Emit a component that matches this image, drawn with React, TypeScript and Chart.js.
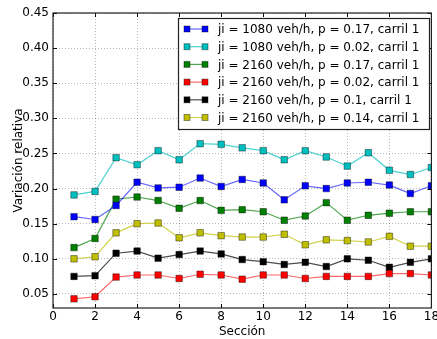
import React, { useEffect, useRef } from "react";
import { Chart, registerables } from "chart.js";

Chart.register(...registerables);

const secciones = [1, 2, 3, 4, 5, 6, 7, 8, 9, 10, 11, 12, 13, 14, 15, 16, 17, 18];

const serie1080p017 = [0.160, 0.156, 0.176, 0.209, 0.201, 0.202, 0.215, 0.203, 0.213, 0.208, 0.184, 0.204, 0.200, 0.208, 0.209, 0.205, 0.193, 0.204];
const serie1080p002 = [0.191, 0.196, 0.244, 0.234, 0.254, 0.241, 0.264, 0.263, 0.258, 0.254, 0.241, 0.254, 0.245, 0.232, 0.251, 0.226, 0.220, 0.230];
const serie2160p017 = [0.116, 0.129, 0.185, 0.188, 0.183, 0.172, 0.183, 0.169, 0.170, 0.167, 0.155, 0.161, 0.180, 0.155, 0.162, 0.165, 0.167, 0.167];
const serie2160p002 = [0.043, 0.046, 0.074, 0.077, 0.077, 0.072, 0.078, 0.077, 0.071, 0.077, 0.077, 0.072, 0.075, 0.075, 0.075, 0.079, 0.079, 0.077];
const serie2160p01 = [0.075, 0.076, 0.108, 0.111, 0.101, 0.106, 0.111, 0.107, 0.099, 0.096, 0.092, 0.095, 0.089, 0.100, 0.098, 0.088, 0.095, 0.100];
const serie2160p014 = [0.100, 0.103, 0.137, 0.150, 0.151, 0.130, 0.137, 0.133, 0.131, 0.131, 0.135, 0.120, 0.127, 0.126, 0.124, 0.132, 0.118, 0.118];

const etiquetas = [
  "ji = 1080 veh/h, p = 0.17, carril 1",
  "ji = 1080 veh/h, p = 0.02, carril 1",
  "ji = 2160 veh/h, p = 0.17, carril 1",
  "ji = 2160 veh/h, p = 0.02, carril 1",
  "ji = 2160 veh/h, p = 0.1, carril 1",
  "ji = 2160 veh/h, p = 0.14, carril 1",
];

const yTicks = [0.05, 0.1, 0.15, 0.2, 0.25, 0.3, 0.35, 0.4, 0.45];
const xTicks = [0, 2, 4, 6, 8, 10, 12, 14, 16, 18];

const colores = ["#0000ff", "#00bfbf", "#008000", "#ff0000", "#000000", "#bfbf00"];
const coloresLinea = [
  "rgba(0,0,255,0.6)",
  "rgba(0,191,191,0.7)",
  "rgba(0,128,0,0.7)",
  "rgba(255,0,0,0.6)",
  "rgba(0,0,0,0.7)",
  "rgba(191,191,0,0.7)",
];

const FONT = "'DejaVu Sans', sans-serif";

const framePlugin = {
  id: "frameAndLegend",
  afterDraw(chart: any) {
    const { ctx, chartArea } = chart;
    const { left, right, top, bottom } = chartArea;
    ctx.save();
    ctx.strokeStyle = "#000";
    ctx.lineWidth = 1;
    const xs = chart.scales.x;
    const ys = chart.scales.y;
    ctx.beginPath();
    xTicks.forEach((t) => {
      const px = Math.round(xs.getPixelForValue(t)) + 0.5;
      ctx.moveTo(px, bottom);
      ctx.lineTo(px, bottom - 4);
      ctx.moveTo(px, top);
      ctx.lineTo(px, top + 4);
    });
    yTicks.forEach((t) => {
      const py = Math.round(ys.getPixelForValue(t)) + 0.5;
      ctx.moveTo(left, py);
      ctx.lineTo(left + 4, py);
      ctx.moveTo(right, py);
      ctx.lineTo(right - 4, py);
    });
    ctx.stroke();
    ctx.strokeStyle = "#222";
    ctx.lineWidth = 1.2;
    ctx.strokeRect(left, top, right - left, bottom - top);

    const lx = 178.5, ly = 18.5, lw = 251, lh = 111;
    ctx.fillStyle = "#fff";
    ctx.fillRect(lx, ly, lw, lh);
    ctx.strokeStyle = "#222";
    ctx.lineWidth = 1.2;
    ctx.strokeRect(lx, ly, lw, lh);
    ctx.font = "12px " + FONT;
    ctx.textBaseline = "middle";
    ctx.textAlign = "left";
    chart.data.datasets.forEach((ds: any, i: number) => {
      const y = 29 + i * 17.7;
      ctx.strokeStyle = ds.borderColor;
      ctx.lineWidth = 1.2;
      ctx.beginPath();
      ctx.moveTo(187, y);
      ctx.lineTo(205, y);
      ctx.stroke();
      [187, 205].forEach((mx) => {
        ctx.fillStyle = ds.pointBackgroundColor;
        ctx.fillRect(mx - 3, y - 3, 6, 6);
        ctx.strokeStyle = "rgba(0,0,0,0.4)";
        ctx.lineWidth = 1;
        ctx.strokeRect(mx - 3, y - 3, 6, 6);
      });
      ctx.fillStyle = "#000";
      ctx.fillText(ds.label, 218, y + 1);
    });
    ctx.restore();
  },
};

export default function App() {
  const ref = useRef<HTMLCanvasElement>(null);
  useEffect(() => {
    if (!ref.current) return;
    const series = [serie1080p017, serie1080p002, serie2160p017, serie2160p002, serie2160p01, serie2160p014];
    const datasets = series.map((s, i) => ({
      label: etiquetas[i],
      data: s.map((v, j) => ({ x: secciones[j], y: v })),
      borderColor: coloresLinea[i],
      backgroundColor: colores[i],
      pointBackgroundColor: colores[i],
      pointBorderColor: "rgba(0,0,0,0.4)",
      pointBorderWidth: 1,
      pointStyle: "rect",
      pointRadius: 4.6,
      borderWidth: 1.2,
      tension: 0,
    }));
    const chart = new Chart(ref.current, {
      type: "line",
      data: { datasets },
      plugins: [framePlugin],
      options: {
        animation: false,
        responsive: false,
        layout: { padding: { top: 13, right: 2, left: 0, bottom: 0 } },
        plugins: { legend: { display: false }, tooltip: { enabled: false } },
        scales: {
          x: {
            type: "linear",
            min: 0,
            max: 18,
            afterBuildTicks: (scale: any) => {
              scale.ticks = xTicks.map((v) => ({ value: v }));
            },
            afterFit: (scale: any) => {
              scale.height = 31;
              scale.paddingLeft = 0;
              scale.paddingRight = 0;
            },
            ticks: {
              font: { family: FONT, size: 12 },
              color: "#000",
              padding: 2,
              maxRotation: 0,
              callback: (v: any) => String(v),
            },
            grid: {
              color: "rgba(0,0,0,0.35)",
              lineWidth: 0.8,
              drawTicks: false,
            },
            border: { display: false, dash: [1, 2] },
            title: {
              display: true,
              text: "Sección",
              font: { family: FONT, size: 12 },
              color: "#000",
              padding: { top: 0, bottom: 0 },
            },
          },
          y: {
            type: "linear",
            min: 0.03,
            max: 0.45,
            afterBuildTicks: (scale: any) => {
              scale.ticks = yTicks.map((v) => ({ value: v }));
            },
            afterFit: (scale: any) => {
              scale.width = 53;
            },
            ticks: {
              font: { family: FONT, size: 12 },
              color: "#000",
              padding: 4,
              callback: (v: any) => Number(v).toFixed(2),
            },
            grid: {
              color: "rgba(0,0,0,0.35)",
              lineWidth: 0.8,
              drawTicks: false,
            },
            border: { display: false, dash: [1, 2] },
            title: {
              display: true,
              text: "Variación relativa",
              font: { family: FONT, size: 12 },
              color: "#000",
              padding: { top: 12, bottom: 0 },
            },
          },
        },
      },
    } as any);
    return () => chart.destroy();
  }, []);
  return (
    <div style={{ position: "fixed", left: 0, top: 0, width: 437, height: 339, background: "#fff" }}>
      <canvas ref={ref} width={437} height={339} style={{ width: 437, height: 339 }} />
    </div>
  );
}
